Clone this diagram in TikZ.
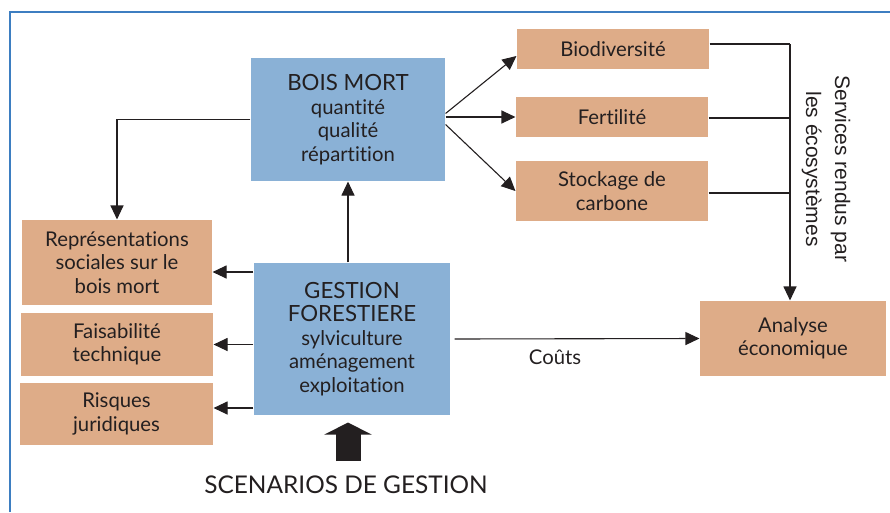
\documentclass[tikz,border=0pt]{standalone}
\usepackage{fontspec}
\setmainfont{Lato}[Ligatures=NoCommon]
\newfontfamily\helv{Liberation Sans}
\usetikzlibrary{arrows.meta}

\definecolor{boxblue}{HTML}{8AB1D6}
\definecolor{boxorange}{HTML}{DEAC88}
\definecolor{frameblue}{HTML}{3D7EC1}
\definecolor{txtgray}{HTML}{231F20}

\begin{document}
\begin{tikzpicture}[x=1pt,y=-1pt,>={Triangle[length=14pt,width=13pt]},line width=1.1pt,
	every node/.style={text=txtgray,font=\fontsize{20.3}{23.5}\selectfont}]
	\tikzstyle{mainbox}=[fill=boxblue,align=center,inner sep=0pt]
	\tikzstyle{effect}=[fill=boxorange,align=center,inner sep=0pt]
	\tikzstyle{link}=[draw=txtgray]
	
	\useasboundingbox (0,0) rectangle (890,512);
	\draw[frameblue,line width=2pt] (10,512) -- (10,12) -- (890,12);
	
	\node[mainbox,minimum width=194pt,minimum height=123pt](bois) at (348,119.5){{\fontsize{22.3}{23.5}\selectfont BOIS MORT}\\quantité\\qualité\\répartition};
	\node[mainbox,minimum width=196pt,minimum height=152pt](gest) at (352,339){{\fontsize{22.3}{24.5}\selectfont GESTION}\\{\fontsize{22.3}{24.5}\selectfont FORESTIERE}\\sylviculture\\aménagement\\exploitation};
	
	\node[effect,minimum width=192pt,minimum height=40pt](bio) at (613,49){Biodiversité};
	\node[effect,minimum width=192pt,minimum height=40pt](fert) at (612,117){Fertilité};
	\node[effect,minimum width=192pt,minimum height=60pt](stock) at (612,191){Stockage de\\carbone};
	\node[effect,minimum width=186pt,minimum height=75pt](analyse) at (793,338.5){Analyse\\économique};
	
	\node[effect,minimum width=190pt,minimum height=85pt](repr) at (117,262.5){Représentations\\sociales sur le\\bois mort};
	\node[effect,minimum width=192pt,minimum height=63pt](fais) at (117,344.5){Faisabilité\\technique};
	\node[effect,minimum width=193pt,minimum height=62pt](risq) at (116.5,414){Risques\\juridiques};
	
	\node[rotate=-90,align=center,font=\helv\fontsize{21}{29}\selectfont](services) at (826,169){Services rendus par\\les écosystèmes};
	\node[font=\fontsize{24.4}{27}\selectfont](scen) at (346,485){SCENARIOS DE GESTION};
	\coordinate (svc) at (790,44);
	
	\draw[link,->] (bois.west) -| (repr.north);
	\draw[link,->] (bois.south |- gest.north) -- (bois.south);
	
	\draw[link,->] ([yshift=6pt]bois.east) -- ([yshift=-7pt]bio.west);
	\draw[link,->] (bois.east |- fert.west) -- (fert.west);
	\draw[link,->] ([yshift=-5pt]bois.east) -- (stock.west);
	
	\draw[link] (bio.east |- svc) -- (svc);
	\draw[link] ([yshift=-1pt]fert.east) -- ([yshift=-1pt]fert.east -| svc);
	\draw[link] ([yshift=-2pt]stock.east) -- ([yshift=-2pt]stock.east -| svc);
	\draw[link,->] (svc) -- (svc |- analyse.north);
	
	\draw[link,->] ([yshift=-9.5pt]gest.west |- repr.east) -- ([yshift=-9.5pt]repr.east);
	\draw[link,->] (gest.west |- fais.east) -- (fais.east);
	\draw[link,->] ([yshift=6pt]gest.west |- risq.east) -- ([yshift=6pt]risq.east);
	
	\draw[link,->,shorten <=4pt] (gest.east) -- (analyse.west) node[pos=0.42,below=10pt,inner sep=0pt]{Coûts};
	
	\draw[txtgray,line width=25pt,-{Triangle[length=12pt,width=47pt]},shorten <=11pt,shorten >=7pt] (scen.north -| bois.south) -- (gest.south -| bois.south);
\end{tikzpicture}
\end{document}
